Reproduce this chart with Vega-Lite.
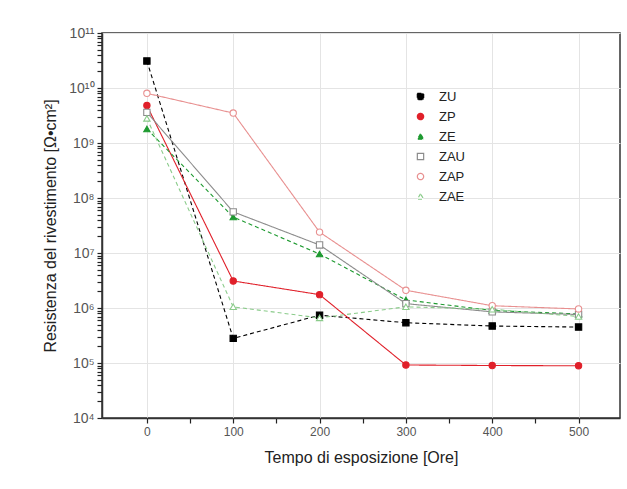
{
  "$schema": "https://vega.github.io/schema/vega-lite/v6.json",
  "width": 518,
  "height": 385,
  "autosize": {"type": "none"},
  "padding": {"left": 102, "top": 33, "right": 7, "bottom": 71},
  "background": "#ffffff",
  "config": {
    "font": "Liberation Sans",
    "view": {"stroke": "#333333", "strokeWidth": 1.5},
    "axis": {"ticks": true, "tickColor": "#222222"},
    "legend": {"labelFontSize": 13, "labelColor": "#222222", "labelFont": "Liberation Sans", "symbolSize": 40, "rowPadding": 6, "symbolStrokeWidth": 1.2, "labelOffset": 12}
  },
  "data": {"values": [
    {"series": "ZU", "t": 0, "r": 3.1e10},
    {"series": "ZU", "t": 100, "r": 2.8e5},
    {"series": "ZU", "t": 200, "r": 7.4e5},
    {"series": "ZU", "t": 300, "r": 5.4e5},
    {"series": "ZU", "t": 400, "r": 4.7e5},
    {"series": "ZU", "t": 500, "r": 4.5e5},
    {"series": "ZP", "t": 0, "r": 4.8e9},
    {"series": "ZP", "t": 100, "r": 3.1e6},
    {"series": "ZP", "t": 200, "r": 1.75e6},
    {"series": "ZP", "t": 300, "r": 9.2e4},
    {"series": "ZP", "t": 400, "r": 9.0e4},
    {"series": "ZP", "t": 500, "r": 8.9e4},
    {"series": "ZE", "t": 0, "r": 1.8e9},
    {"series": "ZE", "t": 100, "r": 4.5e7},
    {"series": "ZE", "t": 200, "r": 9.6e6},
    {"series": "ZE", "t": 300, "r": 1.4e6},
    {"series": "ZE", "t": 400, "r": 9.0e5},
    {"series": "ZE", "t": 500, "r": 7.8e5},
    {"series": "ZAU", "t": 0, "r": 3.6e9},
    {"series": "ZAU", "t": 100, "r": 5.6e7},
    {"series": "ZAU", "t": 200, "r": 1.4e7},
    {"series": "ZAU", "t": 300, "r": 1.2e6},
    {"series": "ZAU", "t": 400, "r": 8.5e5},
    {"series": "ZAU", "t": 500, "r": 7.6e5},
    {"series": "ZAP", "t": 0, "r": 8.0e9},
    {"series": "ZAP", "t": 100, "r": 3.5e9},
    {"series": "ZAP", "t": 200, "r": 2.4e7},
    {"series": "ZAP", "t": 300, "r": 2.1e6},
    {"series": "ZAP", "t": 400, "r": 1.1e6},
    {"series": "ZAP", "t": 500, "r": 9.6e5},
    {"series": "ZAE", "t": 0, "r": 2.8e9},
    {"series": "ZAE", "t": 100, "r": 1.05e6},
    {"series": "ZAE", "t": 200, "r": 6.6e5},
    {"series": "ZAE", "t": 300, "r": 1.05e6},
    {"series": "ZAE", "t": 400, "r": 9.5e5},
    {"series": "ZAE", "t": 500, "r": 7.0e5}
  ]},
  "encoding": {
    "x": {
      "field": "t", "type": "quantitative",
      "scale": {"domain": [-52, 548], "nice": false, "zero": false},
      "axis": {
        "title": "Tempo di esposizione [Ore]",
        "titleFontSize": 16, "titleFontWeight": "normal", "titleColor": "#222222", "titlePadding": 12,
        "values": [0, 50, 100, 150, 200, 250, 300, 350, 400, 450, 500],
        "labelExpr": "datum.value % 100 == 0 ? datum.label : ''",
        "labelFontSize": 12, "labelColor": "#555555", "labelPadding": 3,
        "ticks": true,
        "tickSize": 5,
        "tickWidth": 1.2,
        "domainColor": "#333333", "domainWidth": 1.5,
        "grid": true,
        "gridColor": "#e4e4e4",
        "gridOpacity": {"condition": {"test": "datum.value % 100 == 0", "value": 1}, "value": 0}
      }
    },
    "y": {
      "field": "r", "type": "quantitative",
      "scale": {"type": "log", "domain": [1e4, 1e11], "nice": false},
      "axis": {
        "title": "Resistenza del rivestimento [Ω•cm²]",
        "titleFontSize": 16, "titleFontWeight": "normal", "titleColor": "#222222", "titlePadding": 10,
        "values": [1e4, 2e4, 3e4, 4e4, 5e4, 6e4, 7e4, 8e4, 9e4,
                   1e5, 2e5, 3e5, 4e5, 5e5, 6e5, 7e5, 8e5, 9e5,
                   1e6, 2e6, 3e6, 4e6, 5e6, 6e6, 7e6, 8e6, 9e6,
                   1e7, 2e7, 3e7, 4e7, 5e7, 6e7, 7e7, 8e7, 9e7,
                   1e8, 2e8, 3e8, 4e8, 5e8, 6e8, 7e8, 8e8, 9e8,
                   1e9, 2e9, 3e9, 4e9, 5e9, 6e9, 7e9, 8e9, 9e9,
                   1e10, 2e10, 3e10, 4e10, 5e10, 6e10, 7e10, 8e10, 9e10, 1e11],
        "labelExpr": "abs(log(datum.value)/LN10 - round(log(datum.value)/LN10)) < 0.01 ? '10' + (round(log(datum.value)/LN10) == 4 ? '⁴' : round(log(datum.value)/LN10) == 5 ? '⁵' : round(log(datum.value)/LN10) == 6 ? '⁶' : round(log(datum.value)/LN10) == 7 ? '⁷' : round(log(datum.value)/LN10) == 8 ? '⁸' : round(log(datum.value)/LN10) == 9 ? '⁹' : round(log(datum.value)/LN10) == 10 ? '¹⁰' : '¹¹') : ''",
        "labelFontSize": 14, "labelColor": "#555555", "labelPadding": 3,
        "ticks": true,
        "tickSize": 5,
        "tickWidth": 1.2,
        "domainColor": "#333333", "domainWidth": 1.5,
        "grid": true,
        "gridColor": "#e4e4e4",
        "gridOpacity": {"condition": {"test": "abs(log(datum.value)/LN10 - round(log(datum.value)/LN10)) < 0.01", "value": 1}, "value": 0}
      }
    }
  },
  "layer": [
    {
      "mark": {"type": "line", "strokeWidth": 1.1},
      "encoding": {
        "stroke": {
          "field": "series", "type": "nominal",
          "scale": {"domain": ["ZU", "ZP", "ZE", "ZAU", "ZAP", "ZAE"], "range": ["#000000", "#e0202a", "#1e9a30", "#8c8c8c", "#e89090", "#8acb8a"]},
          "legend": {"title": null, "orient": "none", "legendX": 312, "legendY": 57}
        },
        "strokeDash": {
          "field": "series", "type": "nominal",
          "scale": {"domain": ["ZU", "ZP", "ZE", "ZAU", "ZAP", "ZAE"], "range": [[4, 3], [1, 0], [4, 3], [1, 0], [1, 0], [4, 3]]},
          "legend": null
        }
      }
    },
    {
      "mark": {"type": "point", "size": 40, "strokeWidth": 1.1, "opacity": 1},
      "encoding": {
        "stroke": {
          "field": "series", "type": "nominal",
          "scale": {"domain": ["ZU", "ZP", "ZE", "ZAU", "ZAP", "ZAE"], "range": ["#000000", "#e0202a", "#1e9a30", "#8c8c8c", "#e89090", "#8acb8a"]},
          "legend": {"title": null, "orient": "none", "legendX": 312, "legendY": 57}
        },
        "fill": {
          "field": "series", "type": "nominal",
          "scale": {"domain": ["ZU", "ZP", "ZE", "ZAU", "ZAP", "ZAE"], "range": ["#000000", "#e0202a", "#1e9a30", "#ffffff", "#ffffff", "#ffffff"]},
          "legend": {"title": null, "orient": "none", "legendX": 312, "legendY": 57}
        },
        "shape": {
          "field": "series", "type": "nominal",
          "scale": {"domain": ["ZU", "ZP", "ZE", "ZAU", "ZAP", "ZAE"], "range": ["square", "circle", "triangle-up", "square", "circle", "triangle-up"]},
          "legend": {"title": null, "orient": "none", "legendX": 312, "legendY": 57}
        }
      }
    }
  ]
}
